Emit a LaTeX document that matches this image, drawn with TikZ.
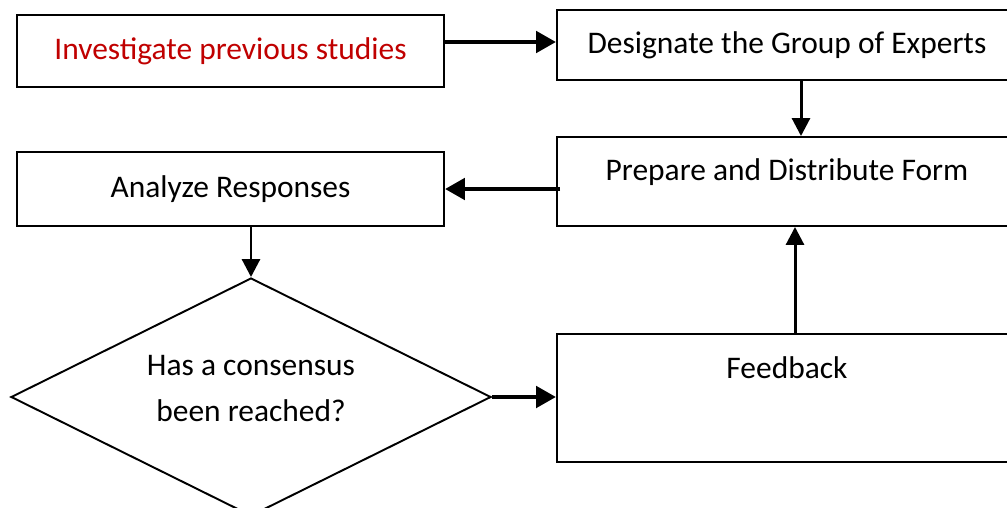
\documentclass[tikz,border=0pt]{standalone}
\usepackage{fontspec}
\setmainfont{Carlito}
\usepackage{xcolor}
\usepackage{tikz}
\usetikzlibrary{positioning,arrows.meta,shapes.geometric}
\definecolor{stepred}{HTML}{C00000}

\begin{document}
\begin{tikzpicture}[
    box/.style={rectangle,draw,line width=1.1pt,font=\fontsize{17.9}{21.5}\selectfont,
                align=center,inner sep=0pt},
    decision/.style={diamond,aspect=2,draw,line width=1.1pt,inner sep=0pt,
                     font=\fontsize{17.9}{26.5}\selectfont,align=center},
    arrow/.style={-{Triangle[length=0.4cm,width=0.42cm]},line width=2.8pt},
    thinarrow/.style={-{Triangle[length=0.36cm,width=0.36cm]},line width=1.7pt}
]
\clip (0,0) rectangle (20.14,-10.16);

\node[box,minimum width=8.54cm,minimum height=1.44cm,text=stepred] (inv) at (4.61,-1.02) {Investigate previous studies};
\node[box,minimum width=9.2cm,minimum height=1.40cm] (des)  at (15.74,-0.90) {Designate the Group of Experts};
\node[box,minimum width=9.2cm,minimum height=1.78cm,text height=0.45cm,text depth=0.5cm] (prep) at (15.74,-3.63) {Prepare and Distribute Form};
\node[box,minimum width=8.54cm,minimum height=1.48cm] (ana)  at (4.61,-3.78) {Analyze Responses};
\node[decision,minimum width=9.6cm,minimum height=4.76cm,text depth=0.34cm] (dia) at (5.02,-7.94) {Has a consensus\\been reached?};
\node[box,minimum width=9.2cm,minimum height=2.56cm,text height=0.45cm,text depth=1.25cm] (fb) at (15.74,-7.96) {Feedback};

\draw[arrow] (inv.east |- 0,-0.84) -- (des.west |- 0,-0.84);
\draw[thinarrow] ([xshift=0.28cm]des.south) -- ([xshift=0.28cm]prep.north);
\draw[arrow] ([xshift=0.08cm]prep.west |- ana.east) -- (ana.east);
\draw[thinarrow] (ana.south -| dia.north) -- (dia.north);
\draw[arrow] (dia.east) -- (fb.west |- dia.east);
\draw[thinarrow] ([xshift=0.16cm]fb.north) -- ([xshift=0.16cm]prep.south);
\end{tikzpicture}
\end{document}
